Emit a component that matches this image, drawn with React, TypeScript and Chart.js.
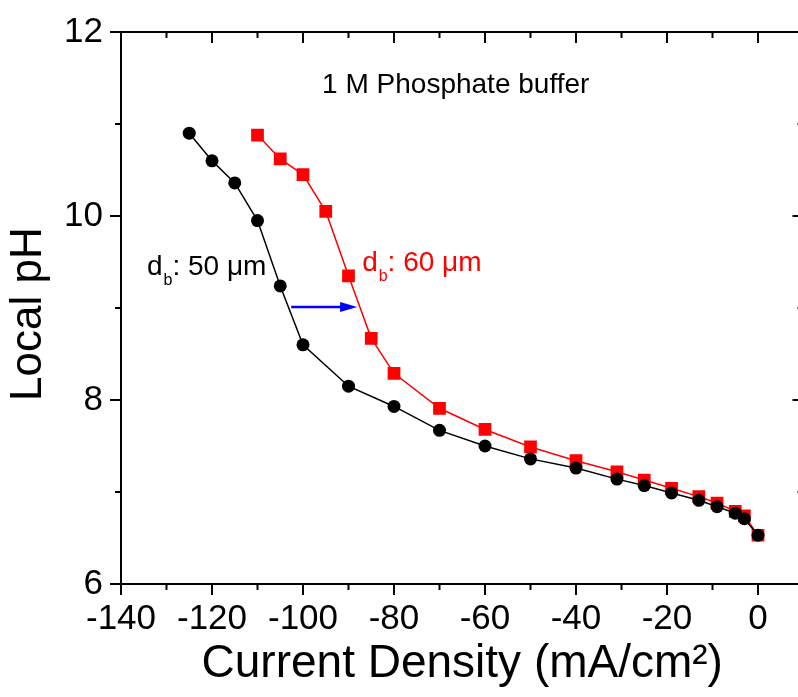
import React, { useEffect, useRef } from "react";
import { Chart, registerables } from "chart.js";

Chart.register(...registerables);

// ---- data ----
const blackX = [-125, -120, -115, -110, -105, -100, -90, -80, -70, -60, -50, -40, -31, -25, -19, -13, -9, -5, -3, 0];
const blackY = [10.9, 10.6, 10.36, 9.95, 9.24, 8.6, 8.15, 7.93, 7.67, 7.5, 7.36, 7.26, 7.14, 7.07, 6.99, 6.91, 6.84, 6.77, 6.71, 6.53];
const redX = [-110, -105, -100, -95, -90, -85, -80, -70, -60, -50, -40, -31, -25, -19, -13, -9, -5, -3, 0];
const redY = [10.88, 10.62, 10.45, 10.05, 9.35, 8.67, 8.29, 7.91, 7.68, 7.49, 7.34, 7.22, 7.13, 7.04, 6.95, 6.88, 6.79, 6.74, 6.53];

const xMajorTicks = [-140, -120, -100, -80, -60, -40, -20, 0];
const xMinorTicks = [-130, -110, -90, -70, -50, -30, -10];
const yMajorTicks = [6, 8, 10, 12];
const yMinorTicks = [7, 9, 11];

const xMin = -140;
const xMax = 10;
const yMin = 6;
const yMax = 12;

const xTitle = "Current Density (mA/cm²)";
const yTitle = "Local pH ";
const noteText = "1 M Phosphate buffer";
const label50 = ": 50 μm";
const label60 = ": 60 μm";
const arrowStartX = -102.6;
const arrowEndX = -88.1;
const arrowY = 9.01;

const FONT = '"Liberation Sans", Arial, Helvetica, sans-serif';

const framePlugin = {
  id: "frame",
  afterDraw(chart: any) {
    const { ctx, chartArea } = chart;
    const { left, right, top, bottom } = chartArea;
    const xs = chart.scales.x;
    const ys = chart.scales.y;
    ctx.save();
    ctx.strokeStyle = "#000";
    ctx.lineWidth = 2;
    const seg = (x1: number, y1: number, x2: number, y2: number) => {
      ctx.beginPath();
      ctx.moveTo(x1, y1);
      ctx.lineTo(x2, y2);
      ctx.stroke();
    };
    // top & right frame lines
    seg(left - 1, top, right + 1, top);
    seg(right, top - 1, right, bottom + 1);
    // x ticks
    xMajorTicks.forEach((v) => {
      const p = xs.getPixelForValue(v);
      seg(p, bottom, p, bottom + 11);
      seg(p, top, p, top + 11);
    });
    xMinorTicks.forEach((v) => {
      const p = xs.getPixelForValue(v);
      seg(p, bottom, p, bottom + 6);
      seg(p, top, p, top + 6);
    });
    // y ticks
    yMajorTicks.forEach((v) => {
      const p = ys.getPixelForValue(v);
      seg(left, p, left - 11, p);
      seg(right, p, right - 11, p);
    });
    yMinorTicks.forEach((v) => {
      const p = ys.getPixelForValue(v);
      seg(left, p, left - 6, p);
      seg(right, p, right - 6, p);
    });

    // annotation text
    ctx.textAlign = "left";
    ctx.textBaseline = "alphabetic";
    ctx.fillStyle = "#000";
    ctx.font = `28px ${FONT}`;
    ctx.fillText(noteText, xs.getPixelForValue(-95.8), ys.getPixelForValue(11.337));

    const drawDb = (vx: number, vy: number, color: string, rest: string) => {
      const px = xs.getPixelForValue(vx);
      const py = ys.getPixelForValue(vy);
      ctx.fillStyle = color;
      ctx.font = `28px ${FONT}`;
      ctx.fillText("d", px, py);
      let w = ctx.measureText("d").width;
      ctx.font = `16px ${FONT}`;
      ctx.fillText("b", px + w + 1, py + 10);
      w += ctx.measureText("b").width + 1;
      ctx.font = `28px ${FONT}`;
      ctx.fillText(rest, px + w, py);
    };
    drawDb(-134.3, 9.36, "#000", label50);
    drawDb(-87.0, 9.4, "#ff0000", label60);

    // arrow
    const ax1 = xs.getPixelForValue(arrowStartX);
    const ax2 = xs.getPixelForValue(arrowEndX);
    const ay = ys.getPixelForValue(arrowY);
    ctx.strokeStyle = "#0000ff";
    ctx.fillStyle = "#0000ff";
    ctx.lineWidth = 2.5;
    seg(ax1, ay, ax2 - 10, ay);
    ctx.beginPath();
    ctx.moveTo(ax2, ay);
    ctx.lineTo(ax2 - 17, ay - 5);
    ctx.lineTo(ax2 - 17, ay + 5);
    ctx.closePath();
    ctx.fill();
    ctx.restore();
  },
};

export default function App() {
  const canvasRef = useRef<HTMLCanvasElement | null>(null);

  useEffect(() => {
    if (!canvasRef.current) return;
    const chart = new Chart(canvasRef.current, {
      type: "scatter",
      data: {
        datasets: [
          {
            label: "db 50 um",
            data: blackX.map((x, i) => ({ x, y: blackY[i] })),
            showLine: true,
            borderColor: "#000",
            backgroundColor: "#000",
            borderWidth: 1.5,
            pointStyle: "circle",
            pointRadius: 6.5,
            pointBorderWidth: 0,
            pointBackgroundColor: "#000",
          },
          {
            label: "db 60 um",
            data: redX.map((x, i) => ({ x, y: redY[i] })),
            showLine: true,
            borderColor: "#ff0000",
            backgroundColor: "#ff0000",
            borderWidth: 1.5,
            pointStyle: "rect",
            pointRadius: 9,
            pointBorderWidth: 0,
            pointBackgroundColor: "#ff0000",
          },
        ],
      },
      options: {
        animation: false,
        responsive: false,
        maintainAspectRatio: false,
        devicePixelRatio: 1,
        layout: { autoPadding: false, padding: { left: 0, top: 32, right: 3.5, bottom: 0 } },
        plugins: { legend: { display: false }, tooltip: { enabled: false } },
        scales: {
          x: {
            type: "linear",
            position: "bottom",
            min: xMin,
            max: xMax,
            afterBuildTicks: (scale: any) => {
              scale.ticks = xMajorTicks.map((v) => ({ value: v }));
            },
            afterFit: (scale: any) => {
              scale.height = 113;
              scale.paddingLeft = 0;
              scale.paddingRight = 0;
            },
            grid: { display: false, drawTicks: false },
            border: { display: true, color: "#000", width: 2 },
            ticks: {
              color: "#000",
              padding: 14,
              maxRotation: 0,
              autoSkip: false,
              font: { family: FONT, size: 35 },
              callback: (v: any) => String(v),
            },
            title: {
              display: true,
              text: xTitle,
              color: "#000",
              font: { family: FONT, size: 46 },
              padding: { top: 0, bottom: 5 },
            },
          },
          y: {
            type: "linear",
            position: "left",
            min: yMin,
            max: yMax,
            afterBuildTicks: (scale: any) => {
              scale.ticks = yMajorTicks.map((v) => ({ value: v }));
            },
            afterFit: (scale: any) => {
              scale.width = 121;
              scale.paddingTop = 0;
              scale.paddingBottom = 0;
            },
            grid: { display: false, drawTicks: false },
            border: { display: true, color: "#000", width: 2 },
            ticks: {
              color: "#000",
              padding: 18,
              autoSkip: false,
              font: { family: FONT, size: 35 },
              callback: (v: any) => String(v),
            },
            title: {
              display: true,
              text: yTitle,
              color: "#000",
              font: { family: FONT, size: 44 },
              padding: { top: 2, bottom: 0 },
            },
          },
        },
      },
      plugins: [framePlugin],
    });
    return () => chart.destroy();
  }, []);

  return (
    <div
      style={{
        position: "fixed",
        left: 0,
        top: 0,
        width: 798,
        height: 697,
        overflow: "hidden",
        background: "#fff",
      }}
    >
      <canvas ref={canvasRef} width={807} height={697} style={{ display: "block" }} />
    </div>
  );
}
